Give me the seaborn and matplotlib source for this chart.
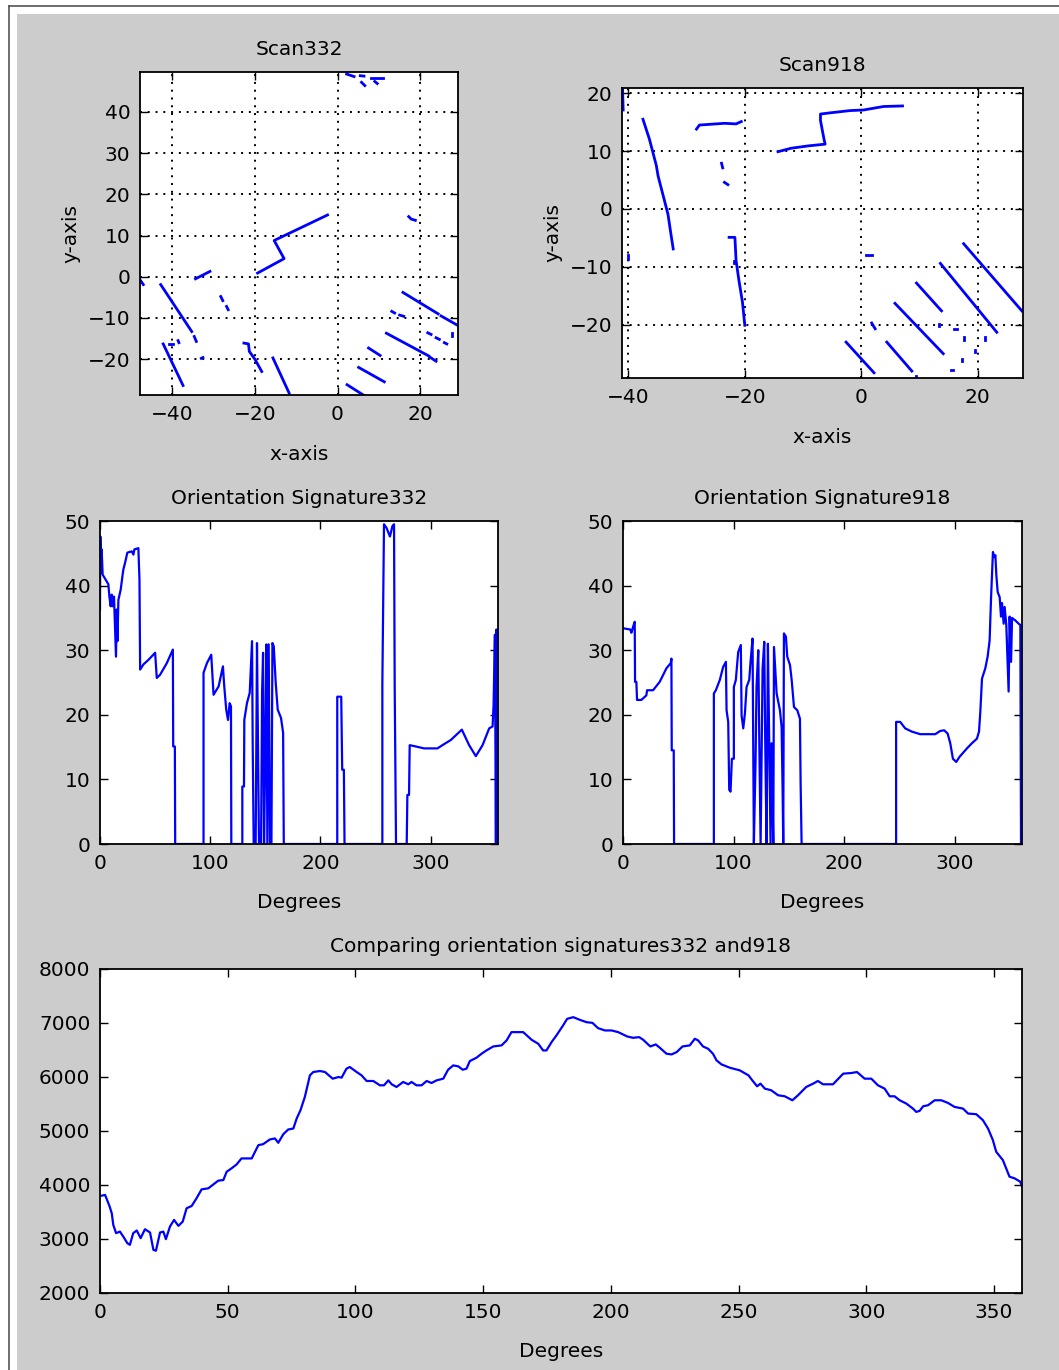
import numpy as np
import pandas as pd
import seaborn as sns
import matplotlib.pyplot as plt
from matplotlib.lines import Line2D
from matplotlib.patches import Rectangle

# ---- scan 332: laser points, one polyline per wall piece (x, y)
scan332_segments = [
    [(2.2, 49.2), (4.0, 48.6)],
    [(5.5, 48.8), (6.4, 48.7)],
    [(5.8, 47.2), (6.6, 46.4)],
    [(8.2, 48.2), (11.0, 48.2)],
    [(9.0, 47.4), (9.6, 46.9)],
    [(-19.3, 0.9), (-12.9, 4.4), (-15.3, 8.8), (-2.4, 15.0)],
    [(-34.3, -0.5), (-30.8, 1.3)],
    [(-47.8, -0.6), (-46.9, -1.9)],
    [(-42.7, -1.9), (-35.2, -13.3)],
    [(-34.6, -14.5), (-34.1, -15.7)],
    [(-28.2, -4.8), (-27.7, -5.8)],
    [(-26.8, -7.2), (-26.4, -8.0)],
    [(-42.1, -16.3), (-37.3, -26.4)],
    [(-40.8, -16.2), (-39.8, -16.2)],
    [(-38.5, -15.5), (-38.3, -16.0)],
    [(-32.9, -19.8), (-32.5, -19.6)],
    [(-22.6, -16.1), (-21.5, -16.3), (-21.3, -18.1), (-19.9, -20.1), (-18.3, -23.0)],
    [(-15.6, -19.7), (-11.7, -28.2)],
    [(2.3, -26.2), (6.7, -29.0)],
    [(5.1, -22.0), (11.3, -25.5)],
    [(7.5, -17.3), (10.3, -19.1)],
    [(11.8, -13.7), (22.0, -19.2)],
    [(22.3, -19.5), (23.8, -20.5)],
    [(15.8, -3.8), (24.3, -9.0)],
    [(25.0, -9.5), (29.2, -11.9)],
    [(13.1, -8.4), (13.8, -8.8)],
    [(15.0, -9.3), (16.0, -9.6)],
    [(21.8, -13.6), (22.6, -14.0)],
    [(23.8, -14.8), (24.6, -15.2)],
    [(25.8, -16.0), (26.4, -16.3)],
    [(27.7, -13.6), (27.7, -14.3)],
    [(17.2, 14.6), (17.8, 14.0), (18.8, 13.7)],
]

# ---- scan 918
scan918_segments = [
    [(-41.0, 20.7), (-40.9, 17.1)],
    [(-37.5, 15.5), (-36.4, 12.1), (-35.2, 7.5), (-34.9, 5.7), (-33.2, -0.9),
     (-32.7, -4.3), (-32.3, -6.9)],
    [(-28.3, 13.8), (-27.8, 14.5), (-24.9, 14.7), (-23.5, 14.8), (-21.5, 14.7), (-20.6, 15.1)],
    [(-24.0, 7.9), (-23.8, 7.1)],
    [(-23.5, 4.6), (-22.9, 4.2)],
    [(-22.7, -4.9), (-21.7, -4.9), (-21.5, -8.9), (-21.0, -12.4), (-20.4, -16.1), (-20.0, -20.1)],
    [(-21.9, -9.0), (-21.9, -9.4)],
    [(-40.0, -8.0), (-40.0, -8.6)],
    [(-14.3, 9.9), (-12.0, 10.5), (-9.1, 10.9), (-6.2, 11.2), (-6.4, 12.1), (-7.0, 15.3),
     (-7.0, 16.4), (-5.4, 16.6), (-1.9, 17.0), (0.4, 17.1), (3.8, 17.7), (7.1, 17.8)],
    [(0.9, -7.9), (1.8, -7.9)],
    [(1.8, -19.7), (2.4, -20.7)],
    [(-2.6, -23.0), (2.2, -28.3)],
    [(4.4, -23.0), (8.7, -28.0)],
    [(5.8, -16.3), (14.1, -25.0)],
    [(9.5, -12.8), (13.8, -17.6)],
    [(13.6, -9.4), (23.3, -21.3)],
    [(17.6, -6.0), (27.6, -17.6)],
    [(13.3, -19.9), (13.3, -20.3)],
    [(16.0, -20.7), (16.4, -20.7)],
    [(17.6, -22.2), (17.6, -22.6)],
    [(21.3, -22.2), (21.3, -22.6)],
    [(17.3, -25.9), (17.3, -26.3)],
    [(19.6, -24.3), (19.6, -24.7)],
    [(15.4, -27.9), (15.8, -27.9)],
    [(9.5, -28.9), (9.5, -29.2)],
]

# ---- orientation signature of scan 332 (degrees, value)
sig332_deg = [0, 0.3, 0.9, 1.5, 2.4, 7.6, 8.5, 9.7, 10.6, 11.5, 12.7, 14.5, 15.2, 15.8, 16.7,
              18.8, 20.3, 21.2, 22.7, 24.8, 28.8, 30.3, 31.2, 34.8, 35.8, 36.4, 39.4, 43.9,
              50.0, 51.5, 54.5, 60.6, 66.1, 66.4, 67.9, 68.2, 93.9, 93.9, 97.0, 100.9, 103.0,
              107.6, 111.5, 112.7, 114.5, 116.1, 117.6, 118.8, 119.1, 129.1, 129.1, 130.6,
              130.9, 133.3, 135.8, 137.9, 138.5, 139.4, 141.2, 142.4, 143.3, 144.2, 146.1,
              147.0, 147.9, 148.8, 150.0, 150.9, 151.8, 153.0, 154.2, 155.5, 156.4, 157.6,
              159.4, 161.2, 164.2, 166.1, 166.7, 215.2, 215.2, 218.8, 219.7, 221.2, 221.8,
              256.1, 256.1, 257.6, 260.0, 263.0, 265.2, 266.7, 267.3, 268.5, 278.2, 278.8,
              280.3, 280.9, 286.4, 293.9, 306.1, 310.6, 318.2, 328.2, 334.8, 340.9, 347.0,
              353.0, 356.1, 357.0, 358.2, 359.1, 359.6, 360.0, 360.3, 360.6]
sig332_val = [36.3, 47.6, 42.0, 45.6, 41.7, 40.2, 38.3, 36.8, 38.6, 36.8, 38.3, 29.0, 36.3, 31.4,
              37.8, 39.4, 41.4, 42.5, 43.5, 45.1, 45.3, 44.8, 45.6, 45.8, 40.9, 27.0, 27.8, 28.5,
              29.6, 25.7, 26.2, 28.0, 30.1, 15.1, 15.1, 0, 0, 26.5, 28.0, 29.3, 23.1,
              24.4, 27.5, 24.4, 20.8, 19.2, 21.8, 21.3, 0, 0, 8.9, 8.9,
              19.2, 21.8, 23.4, 31.4, 15.6, 0, 0, 31.1, 15.6, 0, 0,
              23.4, 29.6, 0, 15.6, 30.9, 0, 30.9, 0, 0, 31.1, 30.6,
              24.9, 20.8, 19.5, 17.2, 0, 0, 22.8, 22.8, 11.5, 11.5, 0,
              0, 24.7, 49.5, 48.9, 47.6, 49.2, 49.5, 24.4, 0, 0, 7.6,
              7.6, 15.3, 15.1, 14.8, 14.8, 15.3, 16.1, 17.7, 15.3, 13.6, 15.3,
              17.9, 18.2, 21.6, 32.4, 0, 33.2, 0, 32.8, 0]

# ---- orientation signature of scan 918
sig918_deg = [0, 6.6, 7.6, 9.1, 10.6, 10.9, 12.1, 12.7, 16.6, 21.1, 21.8, 27.2, 33.2, 39.3,
              43.2, 43.8, 44.1, 45.9, 46.2, 82.2, 82.2, 84.0, 87.6, 90.6, 93.1, 93.7, 95.2,
              96.1, 97.3, 98.5, 100.3, 100.3, 102.1, 104.2, 106.6, 107.3, 108.8, 110.3,
              111.8, 114.2, 115.4, 117.2, 117.8, 118.4, 119.9, 120.8, 122.4, 123.3, 124.5,
              126.3, 127.8, 128.7, 129.9, 131.1, 132.3, 133.5, 134.4, 136.0, 136.6, 139.0,
              142.0, 143.5, 144.4, 145.0, 145.6, 147.4, 148.6, 151.1, 152.6, 154.7, 157.7,
              160.1, 160.7, 161.6, 247.1, 247.1, 250.8, 255.3, 261.3, 268.9, 282.5, 287.0,
              290.6, 293.7, 296.1, 298.5, 301.5, 304.5, 311.2, 315.7, 320.2, 322.1, 323.3,
              324.8, 327.8, 329.9, 331.7, 333.0, 334.7, 336.0, 336.9, 337.8, 339.0, 340.8,
              342.0, 342.9, 344.4, 345.3, 346.8, 348.9, 349.8, 351.1, 352.0, 355.0, 358.0,
              359.5, 360.1]
sig918_val = [33.4, 33.2, 32.7, 33.6, 34.4, 25.1, 25.1, 22.3, 22.3, 23.0, 23.8, 23.8, 25.1, 27.2,
              28.0, 28.7, 14.5, 14.5, 0, 0, 23.3, 23.8, 25.4, 27.4, 28.2, 20.7, 18.9,
              8.4, 8.1, 13.2, 13.2, 24.3, 25.4, 29.7, 30.8, 19.9, 17.9, 20.2,
              24.3, 25.4, 28.2, 31.8, 16.1, 0, 12.5, 24.3, 30.0, 16.1, 0,
              27.2, 31.3, 15.6, 0, 31.0, 15.6, 0, 15.6, 0, 30.5, 23.3,
              20.7, 18.1, 8.4, 0, 32.6, 32.1, 29.0, 27.7, 25.4, 21.2, 20.7,
              19.4, 9.4, 0, 0, 18.9, 18.9, 17.9, 17.4, 17.0, 17.0, 17.5,
              17.6, 17.1, 15.6, 13.2, 12.7, 13.5, 14.8, 15.6, 16.3, 17.4, 20.5,
              25.6, 27.2, 29.0, 31.5, 38.1, 45.2, 44.4, 44.7, 41.6, 39.0, 38.2,
              35.2, 37.3, 34.1, 36.7, 33.9, 23.6, 35.2, 28.2, 35.0, 34.6, 34.1,
              33.9, 0]

# ---- comparison of both signatures over all shifts
comp_deg = [0, 2.0, 3.7, 4.6, 5.2, 6.3, 7.8, 9.1, 10.7, 11.7, 13.0, 14.4, 15.9, 17.6, 19.6,
            20.9, 21.9, 23.5, 24.8, 25.8, 27.4, 29.0, 30.7, 32.4, 33.9, 35.9, 37.8, 39.8,
            42.4, 44.6, 46.3, 48.3, 49.6, 51.5, 53.5, 55.4, 59.4, 62.0, 63.9, 66.5, 68.5,
            69.8, 71.8, 73.7, 75.7, 77.0, 78.5, 80.2, 82.2, 83.5, 86.1, 88.1, 91.1, 93.4,
            94.6, 96.5, 97.8, 100.5, 102.4, 104.4, 107.0, 109.6, 111.2, 112.9, 114.2, 116.1,
            118.7, 120.7, 122.0, 123.9, 125.9, 127.9, 129.8, 131.8, 134.4, 136.3, 138.3,
            140.3, 142.0, 143.5, 144.8, 147.4, 149.4, 151.3, 154.0, 157.2, 159.2, 161.1,
            165.7, 169.0, 171.6, 173.5, 174.8, 176.8, 178.7, 181.3, 182.9, 185.3, 187.9,
            190.5, 192.8, 195.0, 197.7, 200.3, 202.9, 206.4, 208.7, 211.1, 212.7, 214.6,
            215.5, 217.6, 219.2, 221.8, 223.8, 225.8, 228.1, 230.9, 232.9, 234.2, 236.1,
            238.1, 240.0, 241.4, 243.3, 246.6, 250.5, 253.9, 255.6, 257.3, 258.6, 260.3,
            262.8, 265.5, 268.1, 271.1, 273.3, 276.5, 279.2, 281.1, 283.1, 287.0, 291.0,
            294.2, 296.4, 299.4, 302.0, 304.6, 307.2, 309.2, 311.1, 313.1, 315.7, 318.3,
            319.6, 320.9, 322.3, 324.2, 326.8, 329.4, 332.0, 334.6, 337.9, 339.9, 343.1,
            345.7, 347.7, 349.6, 350.9, 353.5, 356.1, 358.1, 360.3, 361.0]
comp_val = [3797, 3815, 3612, 3477, 3262, 3108, 3138, 3046, 2923, 2892, 3108, 3157, 3015, 3181,
            3120, 2800, 2782, 3120, 3138, 2997, 3231, 3354, 3243, 3323, 3569, 3612, 3754, 3920,
            3938, 4018, 4080, 4092, 4246, 4308, 4382, 4492, 4492, 4738, 4757, 4843, 4862,
            4782, 4942, 5028, 5046, 5231, 5385, 5631, 6031, 6092, 6111, 6092, 5969, 6000,
            5988, 6154, 6185, 6092, 6031, 5926, 5926, 5846, 5846, 5938, 5865, 5815,
            5908, 5865, 5908, 5846, 5846, 5926, 5889, 5938, 5969, 6135, 6215,
            6197, 6135, 6154, 6295, 6357, 6431, 6492, 6566, 6585, 6677, 6831,
            6831, 6689, 6615, 6492, 6492, 6646, 6769, 6954, 7077, 7108, 7058,
            7015, 7003, 6905, 6862, 6862, 6831, 6751, 6726, 6738, 6689, 6603,
            6566, 6603, 6541, 6431, 6418, 6462, 6566, 6585, 6708, 6677, 6566,
            6523, 6431, 6308, 6234, 6172, 6123, 6031, 5926, 5828, 5877, 5785,
            5754, 5662, 5643, 5569, 5662, 5815, 5877, 5926, 5865, 5865, 6062,
            6074, 6092, 5969, 5969, 5846, 5785, 5643, 5643, 5569, 5508, 5415,
            5354, 5372, 5458, 5477, 5569, 5569, 5520, 5446, 5415, 5323, 5311,
            5200, 5046, 4831, 4615, 4462, 4154, 4123, 4062, 3969]

plt.rcParams['font.family'] = ['DejaVu Sans']
FS = 14.5

W, H = 1059, 1370
BLUE = '#0000ff'


def box(l, t, r, b):
    # pixel box -> figure fraction rect
    return [l / W, 1 - b / H, (r - l) / W, (b - t) / H]


def segs_to_df(segs):
    rows = [(i, x, y) for i, s in enumerate(segs) for x, y in s]
    return pd.DataFrame(rows, columns=['seg', 'x', 'y'])


def style(ax):
    ax.set_facecolor('white')
    for s in ax.spines.values():
        s.set_linewidth(1.3)
        s.set_color('black')
    ax.tick_params(direction='in', top=True, right=True, length=6, width=1.0,
                   labelsize=FS, pad=7, colors='black')
    ax.set_xlabel('')
    ax.set_ylabel('')


fig = plt.figure(figsize=(W / 100, H / 100), dpi=100, facecolor='white')
fig.patches.append(Rectangle((17 / W, 0), 1, 1 - 14 / H, transform=fig.transFigure,
                             facecolor='#cccccc', edgecolor='none', zorder=-10))
fig.add_artist(Line2D([9 / W, 9 / W], [0, 1 - 6 / H], color='#555555', lw=1.2))
fig.add_artist(Line2D([9 / W, 1], [1 - 6 / H, 1 - 6 / H], color='#555555', lw=1.2))

# scans
scans = [
    (scan332_segments, box(140, 72, 458, 395), (-47.7, 29.1), (-28.7, 49.7),
     [-40, -20, 0, 20], [-20, -10, 0, 10, 20, 30, 40], 'Scan332'),
    (scan918_segments, box(622, 88, 1023, 378), (-41.1, 27.8), (-29.2, 20.9),
     [-40, -20, 0, 20], [-20, -10, 0, 10, 20], 'Scan918'),
]
for segs, rect, xl, yl, xt, yt, title in scans:
    ax = fig.add_axes(rect)
    sns.lineplot(data=segs_to_df(segs), x='x', y='y', units='seg', estimator=None,
                 sort=False, color=BLUE, lw=2.0, ax=ax)
    style(ax)
    ax.set_xlim(*xl)
    ax.set_ylim(*yl)
    ax.set_xticks(xt)
    ax.set_yticks(yt)
    ax.grid(True, color='black', linestyle=(0, (1, 3)), linewidth=1.4)
    ax.set_axisbelow(True)
    ax.set_title(title, fontsize=FS, pad=12)
    ax.set_xlabel('x-axis', fontsize=FS, labelpad=15)
    ax.set_ylabel('y-axis', fontsize=FS, labelpad=5)

# signatures
sigs = [
    (sig332_deg, sig332_val, box(100, 521, 498, 844), 'Orientation Signature332'),
    (sig918_deg, sig918_val, box(623, 521, 1022, 844), 'Orientation Signature918'),
]
for xd, yd, rect, title in sigs:
    ax = fig.add_axes(rect)
    sns.lineplot(x=xd, y=yd, sort=False, estimator=None, color=BLUE, lw=1.6, ax=ax)
    style(ax)
    ax.set_xlim(0, 361)
    ax.set_ylim(0, 50)
    ax.set_xticks([0, 100, 200, 300])
    ax.set_yticks([0, 10, 20, 30, 40, 50])
    ax.set_title(title, fontsize=FS, pad=12)
    ax.set_xlabel('Degrees', fontsize=FS, labelpad=14.5)

# comparison
ax = fig.add_axes(box(100, 969, 1022, 1293))
sns.lineplot(x=comp_deg, y=comp_val, sort=False, estimator=None, color=BLUE, lw=1.6, ax=ax)
style(ax)
ax.set_xlim(0, 361)
ax.set_ylim(2000, 8000)
ax.set_xticks([0, 50, 100, 150, 200, 250, 300, 350])
ax.set_yticks(list(range(2000, 8001, 1000)))
ax.set_title('Comparing orientation signatures332 and918', fontsize=FS, pad=12)
ax.set_xlabel('Degrees', fontsize=FS, labelpad=14.5)

fig.savefig('out.png', dpi=100, facecolor=fig.get_facecolor())
